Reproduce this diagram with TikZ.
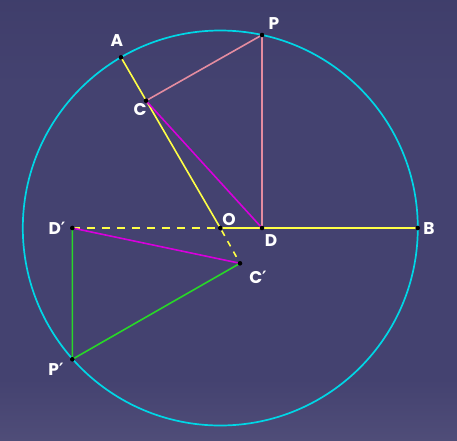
\documentclass[tikz,border=0pt]{standalone}
\usepackage{fontspec}
\setmainfont{Poppins}
\newfontfamily\primefont{DejaVu Sans}
\newcommand{\prm}{{\primefont\bfseries ′}}
\definecolor{bgtop}{RGB}{52,52,94}
\definecolor{bgmid}{RGB}{68,66,112}
\definecolor{bglow}{RGB}{95,92,132}
\definecolor{bgbot}{RGB}{140,136,168}
\definecolor{cyanc}{RGB}{0,215,230}
\definecolor{pinkc}{RGB}{228,140,160}
\definecolor{magc}{RGB}{215,0,220}
\definecolor{greenc}{RGB}{40,215,40}
\definecolor{yelc}{RGB}{255,255,70}
\tikzset{
  lbl/.style={text=white,font=\fontsize{17}{17}\selectfont\bfseries,inner sep=0pt},
  seg/.style={line width=1.6pt},
  dot/.style={fill=black}
}
\begin{document}
\begin{tikzpicture}[x=1pt,y=-1pt]
\pgfdeclareverticalshading{bgshade}{100bp}{color(0bp)=(bgbot); color(15bp)=(bglow); color(32bp)=(bgmid); color(65bp)=(bgmid); color(100bp)=(bgtop)}
\shade[shading=bgshade] (0,0) rectangle (457,440);
\useasboundingbox (0,0) rectangle (457,440);
\coordinate (O) at (220.3,228);
\coordinate (B) at (417.7,228);
\coordinate (A) at (121,57.3);
\coordinate (C) at (146,100.7);
\coordinate (P) at (262,35);
\coordinate (D) at (262,228);
\coordinate (D2) at (72.3,228);
\coordinate (C2) at (240,263.3);
\coordinate (P2) at (72.3,359.3);
\draw[cyanc,line width=1.7pt] (O) circle (197.5);
\draw[seg,yelc] (A) -- (O);
\draw[seg,yelc] (O) -- (B);
\draw[seg,yelc,dash pattern=on 8pt off 7pt] (D2) -- (O);
\draw[seg,yelc,dash pattern=on 6pt off 6pt,dash phase=-3pt] (O) -- (C2);
\draw[seg,pinkc] (C) -- (P) -- (D);
\draw[seg,magc] (C) -- (D);
\draw[seg,magc] (D2) -- (C2);
\draw[seg,greenc] (D2) -- (P2) -- (C2);
\foreach \p in {O,B,A,C,P,D,D2,C2,P2} \fill[dot] (\p) circle (2.3);
\node[lbl] (lA) at (117,41) {A};
\node[lbl] (lP) at (274,24) {P};
\node[lbl] (lC) at (140,110) {C};
\node[lbl] (lO) at (229,219) {O};
\node[lbl] (lD) at (271,241) {D};
\node[lbl] (lB) at (429,229) {B};
\node[lbl] (lD2) at (57,228) {D\prm};
\node[lbl] (lC2) at (258,277) {C\prm};
\node[lbl] (lP2) at (56,369) {P\prm};
\end{tikzpicture}
\end{document}
